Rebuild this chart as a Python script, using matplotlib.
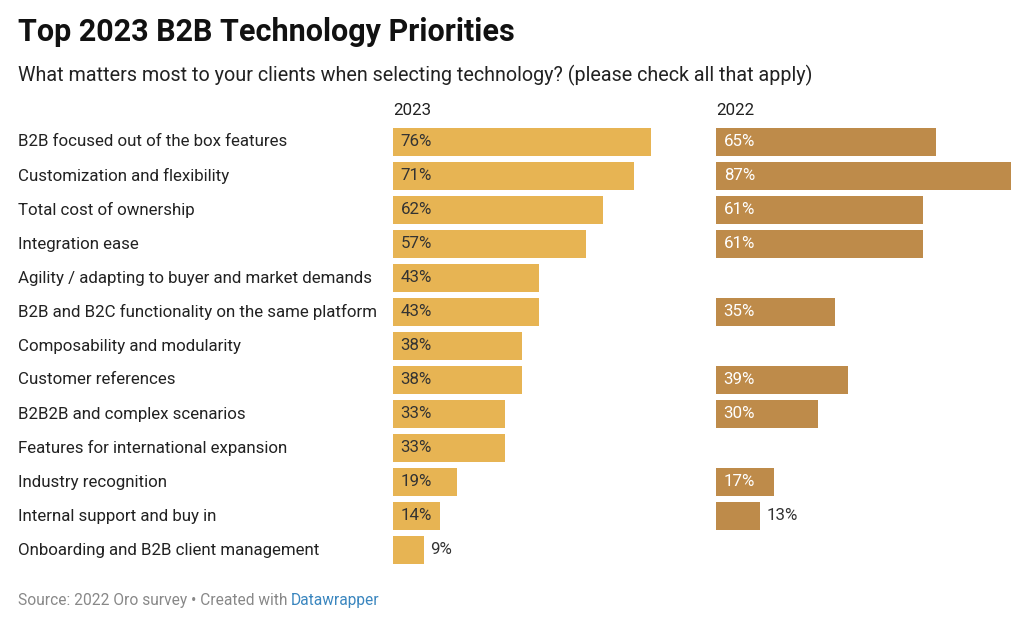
import matplotlib
matplotlib.use("Agg")
import matplotlib.pyplot as plt
import numpy as np

plt.rcParams['font.family'] = ['Roboto', 'DejaVu Sans']

categories = [
    "B2B focused out of the box features",
    "Customization and flexibility",
    "Total cost of ownership",
    "Integration ease",
    "Agility / adapting to buyer and market demands",
    "B2B and B2C functionality on the same platform",
    "Composability and modularity",
    "Customer references",
    "B2B2B and complex scenarios",
    "Features for international expansion",
    "Industry recognition",
    "Internal support and buy in",
    "Onboarding and B2B client management",
]
values_2023 = [76, 71, 62, 57, 43, 43, 38, 38, 33, 33, 19, 14, 9]
values_2022 = [65, 87, 61, 61, None, 35, None, 39, 30, None, 17, 13, None]
series_names = ["2023", "2022"]

W, H = 1024, 620
fig = plt.figure(figsize=(W / 100, H / 100), dpi=100)

px_per_unit = 3.39
row_top, row_bot = 125, 567


def add_axes_px(x0, x1):
    return fig.add_axes([x0 / W, 1 - row_bot / H, (x1 - x0) / W, (row_bot - row_top) / H])


ax1 = add_axes_px(393, 700)
ax2 = add_axes_px(716, 1024)
ax1.set_xlim(0, (700 - 393) / px_per_unit)
ax2.set_xlim(0, (1024 - 716) / px_per_unit)

col_2023 = "#E7B453"
col_2022 = "#BE8B4A"
fs = 12.2

for ax, vals, col, txtcol in [(ax1, values_2023, col_2023, "#333333"),
                              (ax2, values_2022, col_2022, "white")]:
    ax.set_ylim(len(categories) - 0.5, -0.5)
    for i, v in enumerate(vals):
        if v is None:
            continue
        ax.barh(i, v, height=0.82, color=col, edgecolor="none")
        lab = f"{v}%"
        if v >= 14:
            ax.annotate(lab, (0, i), xytext=(5.5, 0), textcoords="offset points",
                        ha="left", va="center", fontsize=fs, color=txtcol)
        else:
            ax.annotate(lab, (v, i), xytext=(5, 0), textcoords="offset points",
                        ha="left", va="center", fontsize=fs, color="#333333")
    ax.axis("off")

# category labels
for i, c in enumerate(categories):
    yc = 142 + 34 * i
    fig.text(18 / W, 1 - yc / H, c, ha="left", va="center", fontsize=fs, color="#222222")

# column headers
fig.text(393 / W, 1 - 110 / H, series_names[0], ha="left", va="center", fontsize=fs, color="#222222")
fig.text(716 / W, 1 - 110 / H, series_names[1], ha="left", va="center", fontsize=fs, color="#222222")

# title / subtitle
fig.text(18 / W, 1 - 32 / H, "Top 2023 B2B Technology Priorities", ha="left", va="center",
         fontsize=22, fontweight="bold", color="#111111")
fig.text(18 / W, 1 - 75 / H,
         "What matters most to your clients when selecting technology? (please check all that apply)",
         ha="left", va="center", fontsize=14.2, color="#222222")

# source
t1 = fig.text(18 / W, 1 - 600 / H, "Source: 2022 Oro survey • Created with ", ha="left", va="center",
              fontsize=11.2, color="#888888")
fig.canvas.draw()
bb = t1.get_window_extent()
fig.text(bb.x1 / W, 1 - 600 / H, "Datawrapper", ha="left", va="center", fontsize=11.2, color="#3A86BF")

fig.savefig("out.png", dpi=100, facecolor="white")
